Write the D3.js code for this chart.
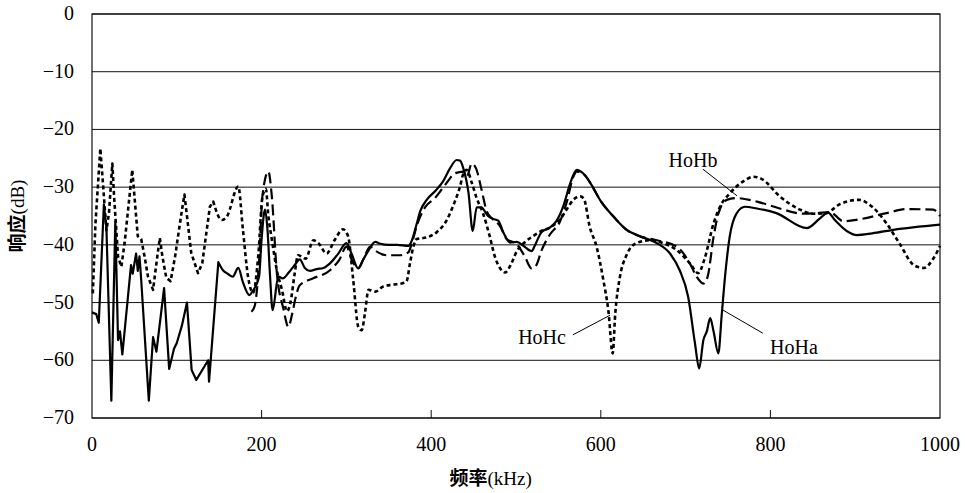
<!DOCTYPE html>
<html>
<head>
<meta charset="utf-8">
<script src="https://cdn.jsdelivr.net/npm/d3@7"></script>
<style>
  body { margin: 0; background: #fff; }
</style>
</head>
<body>
<div id="chart"></div>
<script>
const width = 965
const height = 493
const margin = {left: 92, right: 25, top: 14, bottom: 75}
const serif = "'Liberation Serif', 'Times New Roman', 'DejaVu Serif', serif"

// [kHz, dB]
const hoha = [[0,-51.7],[5,-52],[8,-53.5],[14,-33],[17,-37],[22.8,-67],[27.5,-36],[30.7,-56.5],[33,-55],[35.8,-59],
  [46,-43.5],[48,-45],[52,-41.5],[54,-44.5],[56,-42],[58,-46],[67,-67],[72,-56],[76,-58.5],[85,-47.5],[91,-61.5],
  [96.7,-58],[100,-57],[106,-54],[112,-50],[117.5,-61.7],[123,-63.4],[137,-60],[138,-63.7],[149,-43],[155,-44.5],
  [160,-45],[166,-45.5],[172.5,-44],[178,-46.5],[185.5,-48.7],[189.5,-48],[197,-45.5],[200,-39],[204,-33.9],[207,-37.5],
  [210,-45.5],[213,-51.3],[219.7,-45.5],[225,-45.8],[232,-44.8],[239,-43.5],[245,-42.5],[251,-44],[257,-44.5],[265,-44.2],
  [273,-44],[280,-43.3],[290,-41.6],[300,-39.7],[306,-41.5],[314,-44.1],[320,-42.5],[326,-41],[334,-39.5],[340,-39.8],
  [350,-40],[360,-40],[373,-40.2],[377,-39.3],[383,-36.3],[387,-34.2],[394.7,-32.2],[404.5,-30.7],[414,-29],[422,-26.8],
  [430,-25.3],[434,-25.4],[438,-26.8],[444,-31],[449,-37.6],[453.6,-33.5],[459,-33.5],[467,-35],[473,-35.5],[479,-35.8],
  [485,-37.8],[493,-39.6],[501,-39.5],[509,-40.2],[518.5,-41.1],[522,-40.2],[530,-37.8],[540,-37],[548,-35.8],[556,-33.2],
  [564,-29.3],[571.6,-27],[579,-27.6],[589,-29.6],[599,-32.2],[615,-35.1],[630.5,-37.4],[646,-38.5],[666,-39.7],[681.6,-41.5],
  [693,-44.4],[703,-49],[711,-57],[716,-61.4],[721,-56.5],[725,-55],[729,-52.7],[733,-55],[738.6,-58.8],[742.5,-52.3],
  [746.5,-45.5],[752,-38.6],[760,-34.6],[770,-33.4],[784,-33.7],[807,-34.5],[843,-37.1],[858.5,-35.4],[868,-34.4],
  [876,-35.7],[890,-37.6],[902,-38.3],[920,-38],[945,-37.4],[1000,-36.5]]

const hohb = [[188,-51.6],[192,-50.5],[197,-43],[201,-31.5],[208,-27.3],[212,-31.5],[218,-44.9],[225.6,-51],[231.5,-54.2],
  [236,-52],[240,-49.2],[245,-47],[261,-45.8],[280.7,-44.4],[292,-42.5],[300,-40.3],[306,-42.5],[314,-44],[320,-42.5],
  [328,-40.3],[334,-41],[347.5,-41.8],[363,-41.8],[373,-41.3],[378,-39.3],[383,-36.7],[392.7,-33.5],[404.5,-31.9],
  [418,-29.3],[428,-27.6],[438,-27.3],[442,-28.2],[447.8,-25.9],[453,-26.8],[459.5,-30.5],[465.5,-34.2],[473,-35.6],
  [481,-36.7],[489,-39],[501,-39.9],[510,-41.9],[518.5,-44.1],[524,-43.5],[530,-41],[540,-38.2],[552,-35.9],[560,-32.5],
  [567.6,-28.2],[571.6,-27.3],[581,-27.9],[589,-29.6],[599,-32.2],[615,-35.1],[630.5,-37.4],[646,-38.5],[666,-39.2],
  [689.5,-40.3],[705,-43.2],[713,-45.5],[721,-46.7],[726,-45.5],[733,-38.6],[738.6,-34.6],[748.5,-32.2],[760,-31.9],
  [784,-32.5],[811,-33.7],[839,-34.6],[855,-34.5],[870,-34.3],[886,-35.9],[904,-35.6],[937,-34.5],[961,-33.8],
  [992,-33.9],[1000,-35]]

const hohc = [[1,-48.4],[4,-36.5],[9.8,-23.3],[13,-29.5],[17,-37.5],[20,-34.5],[24,-25.9],[26,-31.5],[30.7,-42],[34.6,-43.8],
  [38.5,-39.6],[47.5,-27],[50,-31.5],[54,-38.5],[58,-39],[62,-42],[66,-45.5],[72,-47.8],[77,-42],[80,-38.8],[83,-42],
  [87.6,-45.7],[92.7,-46.3],[98,-42],[105,-35],[109,-31.3],[112,-35],[117,-41.4],[125,-44.9],[130,-43.2],[139,-33.4],
  [143,-32.5],[153,-35.7],[159,-35.1],[172.5,-29.9],[178,-37.4],[184,-45.5],[190,-48.3],[196,-42],[201,-31.7],[205,-30.3],
  [208,-35],[212,-39],[218,-44.4],[224,-47.8],[230,-51.5],[234,-50],[239,-45],[243,-41.8],[252,-42.4],[261,-39.2],
  [267,-39.7],[276.7,-41.5],[286,-39.2],[296,-37.3],[302,-38.5],[308,-46],[314,-54.2],[318,-54.8],[322,-51.7],[326,-47.8],
  [334,-48.1],[343.5,-47.2],[355,-46.9],[367,-46.6],[371,-46.3],[375,-43.2],[379,-40.3],[383,-39],[395,-38.7],[406.5,-37.8],
  [418,-35.8],[426,-33.2],[434,-29.9],[438,-27.6],[442,-27],[448,-29.3],[453.6,-31.9],[461,-34.5],[469,-38.5],[475,-42],
  [481,-44],[487,-44.8],[493,-43.7],[501,-41.1],[510,-39.6],[520,-38.5],[530,-37.6],[540,-37],[552,-35.6],[560,-33.8],
  [567.6,-32.2],[575.5,-31.6],[580,-32],[587,-36.9],[595,-40.3],[603,-46.1],[609,-51.5],[614,-58.8],[617,-52],[622.6,-45.5],
  [630,-41.9],[642,-39.7],[658,-39.2],[673,-39.7],[689.5,-40.9],[705,-43.2],[715,-44.9],[722,-42.6],[733,-36.3],[740.5,-33.4],
  [752,-31.1],[768,-29],[780,-28.2],[790,-28.6],[811,-31.6],[835,-33.9],[850,-34.6],[866,-34.5],[880,-33.1],[904,-32.2],
  [920,-33.4],[937,-36.3],[952,-39.7],[970,-43.6],[981,-44],[992,-42.4],[1000,-40.2]]

const xTicks = [0, 200, 400, 600, 800, 1000]
const yTicks = [0, -10, -20, -30, -40, -50, -60, -70]

// label text, label position, leader line from / to  (kHz, dB)
const labels = [
  {name: "HoHb", at: [708.7, -25.3], from: [720.5, -26.9], to: [760.6, -31.5]},
  {name: "HoHc", at: [530.7, -56], from: [567, -55.6], to: [610.8, -52.2]},
  {name: "HoHa", at: [827.8, -57.7], from: [744, -51.3], to: [791, -55.3]}
]

const svg = d3.select("#chart").append("svg")
    .attr("width", width)
    .attr("height", height)

const x = d3.scaleLinear().domain([0, 1000]).range([margin.left, width - margin.right])
const y = d3.scaleLinear().domain([-70, 0]).range([height - margin.bottom, margin.top])

// grid + frame
svg.append("g")
    .selectAll("line")
    .data(yTicks)
    .join("line")
    .attr("x1", x(0))
    .attr("x2", x(1000))
    .attr("y1", d => y(d))
    .attr("y2", d => y(d))
    .attr("stroke", "#111")
    .attr("stroke-width", 1)

svg.append("rect")
    .attr("x", x(0))
    .attr("y", y(0))
    .attr("width", x(1000) - x(0))
    .attr("height", y(-70) - y(0))
    .attr("fill", "none")
    .attr("stroke", "#111")
    .attr("stroke-width", 1.2)

// small inner ticks on the bottom
svg.append("g")
    .selectAll("line")
    .data(xTicks.slice(1, -1))
    .join("line")
    .attr("x1", d => x(d))
    .attr("x2", d => x(d))
    .attr("y1", y(-70))
    .attr("y2", y(-70) - 8)
    .attr("stroke", "#111")

svg.append("g")
    .selectAll("text")
    .data(xTicks)
    .join("text")
    .attr("x", d => x(d))
    .attr("y", y(-70) + 33)
    .attr("text-anchor", "middle")
    .attr("font-family", serif)
    .attr("font-size", 20)
    .text(d => d)

svg.append("g")
    .selectAll("text")
    .data(yTicks)
    .join("text")
    .attr("x", x(0) - 18)
    .attr("y", d => y(d) + 6)
    .attr("text-anchor", "end")
    .attr("font-family", serif)
    .attr("font-size", 20)
    .text(d => d < 0 ? "\u2212" + Math.abs(d) : d)

svg.append("text")
    .attr("x", x(470))
    .attr("y", height - 8)
    .attr("text-anchor", "middle")
    .attr("font-family", serif)
    .attr("font-size", 19)
    .html('<tspan font-family="Noto Sans CJK SC" font-weight="bold">频率</tspan>(kHz)')

svg.append("text")
    .attr("transform", `translate(24, ${y(-35)}) rotate(-90)`)
    .attr("text-anchor", "middle")
    .attr("font-family", serif)
    .attr("font-size", 19)
    .html('<tspan font-family="Noto Sans CJK SC" font-weight="bold">响应</tspan>(dB)')

// curves: jagged part below ~150 kHz is straight segments, the rest smooth
const split = 150
const lineLin = d3.line()
    .x(d => x(d[0]))
    .y(d => y(d[1]))
const lineSmooth = d3.line()
    .x(d => x(d[0]))
    .y(d => y(d[1]))
    .curve(d3.curveMonotoneX)

function pathOf(data) {
    const low = data.filter(d => d[0] <= split)
    if (low.length < 2) return lineSmooth(data)
    const last = low[low.length - 1][0]
    const high = data.filter(d => d[0] >= last)
    return lineLin(low) + lineSmooth(high).replace(/^M/, "L")
}

const series = [
  {data: hoha, dash: null, w: 2.2},
  {data: hohb, dash: "11,5", w: 2.2},
  {data: hohc, dash: "4,3", w: 2.6}
]

svg.append("g")
    .selectAll("path")
    .data(series)
    .join("path")
    .attr("d", d => pathOf(d.data))
    .attr("fill", "none")
    .attr("stroke", "#000")
    .attr("stroke-width", d => d.w)
    .attr("stroke-dasharray", d => d.dash)
    .attr("stroke-linejoin", "round")

// annotations
const ann = svg.append("g")
ann.selectAll("line")
    .data(labels)
    .join("line")
    .attr("x1", d => x(d.from[0]))
    .attr("y1", d => y(d.from[1]))
    .attr("x2", d => x(d.to[0]))
    .attr("y2", d => y(d.to[1]))
    .attr("stroke", "#000")
    .attr("stroke-width", 1)

ann.selectAll("text")
    .data(labels)
    .join("text")
    .attr("x", d => x(d.at[0]))
    .attr("y", d => y(d.at[1]) + 7)
    .attr("text-anchor", "middle")
    .attr("font-family", serif)
    .attr("font-size", 20)
    .text(d => d.name)
</script>
</body>
</html>
